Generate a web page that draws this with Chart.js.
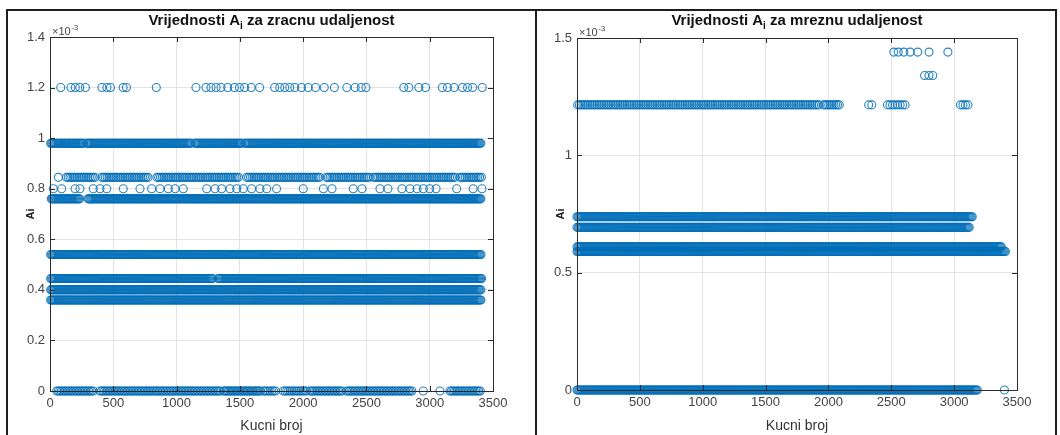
<!DOCTYPE html>
<html>
<head>
<meta charset="utf-8">
<script src="https://cdn.jsdelivr.net/npm/chart.js@4.4.1/dist/chart.umd.min.js"></script>
<style>
  body { margin: 0; background: #fff; width: 1060px; height: 435px; overflow: hidden; position: relative; }
  .ln { position: absolute; background: #1e1e1e; }
  .wrap { position: absolute; top: 11px; }
  canvas { display: block; }
</style>
</head>
<body>
<div class="ln" style="left:6px;top:9px;width:1051px;height:2px"></div>
<div class="ln" style="left:6px;top:9px;width:2px;height:426px"></div>
<div class="ln" style="left:535px;top:9px;width:2px;height:426px"></div>
<div class="ln" style="left:1055px;top:9px;width:2px;height:426px"></div>
<div class="wrap" style="left:8px"><canvas id="c1" width="527" height="424"></canvas></div>
<div class="wrap" style="left:538px"><canvas id="c2" width="517" height="424"></canvas></div>
<script>
// Ai values are in units of 10^-3, x = Kucni broj
// runs: [od, do, korak] = consecutive houses on one level, singles = lone circles

// --- zracna udaljenost ---
const zracRazine = [1.2, 0.98, 0.845, 0.80, 0.76, 0.54, 0.445, 0.40, 0.36, 0];
const zracNizovi = [
  [],
  [[5, 95, 8], [105, 265, 8], [290, 1120, 8], [1145, 1515, 8], [1540, 3410, 8]],
  [[130, 340, 14], [410, 775, 14], [845, 1500, 14], [1555, 2130, 14], [2185, 2530, 14], [2555, 3210, 14], [3240, 3410, 14]],
  [],
  [[10, 240, 8], [300, 3410, 8]],
  [[5, 3410, 8]],
  [[5, 1290, 8], [1330, 3410, 8]],
  [[5, 3410, 8]],
  [[5, 3410, 8]],
  [[53, 342, 12], [395, 1343, 12], [1370, 1660, 10], [1683, 1793, 14], [1843, 2027, 14], [2054, 2317, 12], [2343, 2870, 12], [3160, 3400, 12]]
];
const zracPojedinacni = [
  [85, 165, 200, 235, 280, 410, 450, 478, 578, 604, 840, 1153, 1232, 1272, 1312, 1351, 1404, 1457, 1497, 1537,
   1590, 1656, 1775, 1815, 1855, 1894, 1934, 1987, 2040, 2098, 2167, 2247, 2345, 2411, 2459, 2496, 2795, 2835,
   2914, 2967, 3100, 3140, 3193, 3259, 3299, 3339, 3415],
  [],
  [66, 355],
  [26, 92, 198, 237, 342, 395, 448, 579, 711, 803, 869, 935, 988, 1053, 1238, 1304, 1356, 1422, 1475, 1527,
   1593, 1659, 1712, 1790, 2001, 2160, 2228, 2396, 2465, 2607, 2670, 2780, 2844, 2900, 2950, 3000, 3050, 3213,
   3343, 3413],
  [], [], [], [], [],
  [2949, 3081]
];

// --- mrezna udaljenost ---
const mrezRazine = [1.44, 1.34, 1.215, 0.738, 0.693, 0.61, 0.59, 0];
const mrezNizovi = [
  [],
  [],
  [[5, 1930, 14], [1960, 2095, 14], [2470, 2610, 20], [3050, 3110, 20]],
  [[0, 3150, 8]],
  [[0, 3125, 8]],
  [[0, 3380, 8]],
  [[0, 3410, 8]],
  [[0, 3190, 8]]
];
const mrezPojedinacni = [
  [2520, 2555, 2600, 2650, 2710, 2800, 2950],
  [2765, 2800, 2830],
  [2320, 2345],
  [], [], [], [],
  [3400]
];

const xTicks = { min: 0, max: 3500, step: 500 };
const zracY = { min: 0, max: 1.4, step: 0.2 };
const mrezY = { min: 0, max: 1.5, step: 0.5 };

function points(razine, nizovi, pojedinacni) {
  const out = [];
  razine.forEach((y, i) => {
    nizovi[i].forEach(([a, b, k]) => {
      for (let x = a; x <= b; x += k) out.push({ x: x, y: y });
    });
    pojedinacni[i].forEach(x => out.push({ x: x, y: y }));
  });
  return out;
}

const FONT = '"Liberation Sans", Arial, Helvetica, sans-serif';
const TICK = '#444';

const matlabLook = {
  id: 'matlabLook',
  afterDraw(chart, args, opts) {
    const { ctx, chartArea: a, scales } = chart;
    ctx.save();
    // box + inner ticks
    ctx.strokeStyle = '#2a2a2a';
    ctx.lineWidth = 1;
    ctx.strokeRect(Math.round(a.left) + 0.5, Math.round(a.top) + 0.5,
      Math.round(a.right - a.left), Math.round(a.bottom - a.top));
    ctx.beginPath();
    scales.x.ticks.forEach(t => {
      const px = Math.round(scales.x.getPixelForValue(t.value)) + 0.5;
      ctx.moveTo(px, a.bottom); ctx.lineTo(px, a.bottom - 5);
      ctx.moveTo(px, a.top); ctx.lineTo(px, a.top + 5);
    });
    scales.y.ticks.forEach(t => {
      const py = Math.round(scales.y.getPixelForValue(t.value)) + 0.5;
      ctx.moveTo(a.left, py); ctx.lineTo(a.left + 5, py);
      ctx.moveTo(a.right, py); ctx.lineTo(a.right - 5, py);
    });
    ctx.stroke();

    // title with subscript i
    const cx = (a.left + a.right) / 2;
    const big = 'bold 15px ' + FONT, small = 'bold 10px ' + FONT;
    ctx.font = big;
    const w1 = ctx.measureText(opts.pre).width;
    const w3 = ctx.measureText(opts.post).width;
    ctx.font = small;
    const w2 = ctx.measureText('i').width;
    let x = cx - (w1 + w2 + w3) / 2;
    const base = 14;
    ctx.fillStyle = '#111';
    ctx.textBaseline = 'alphabetic';
    ctx.textAlign = 'left';
    ctx.font = big; ctx.fillText(opts.pre, x, base); x += w1;
    ctx.font = small; ctx.fillText('i', x, base + 4); x += w2;
    ctx.font = big; ctx.fillText(opts.post, x, base);

    // exponent
    ctx.fillStyle = TICK;
    ctx.font = '11px ' + FONT;
    const ex = a.left + 2, ey = a.top - 2;
    ctx.fillText('\u00d710', ex, ey);
    const ew = ctx.measureText('\u00d710').width;
    ctx.font = '8px ' + FONT;
    ctx.fillText('-3', ex + ew + 0.5, ey - 5);
    ctx.restore();
  }
};

function makeChart(id, razine, nizovi, pojedinacni, yr, title, pad, yWidth, xHeight) {
  return new Chart(document.getElementById(id), {
    type: 'scatter',
    data: {
      datasets: [{
        data: points(razine, nizovi, pojedinacni),
        pointStyle: 'circle',
        pointRadius: 4,
        pointBorderWidth: 1.1,
        pointBackgroundColor: 'rgba(0,0,0,0)',
        pointBorderColor: 'rgba(0,110,185,0.85)',
        showLine: false,
        clip: false
      }]
    },
    options: {
      responsive: false,
      animation: false,
      devicePixelRatio: 1,
      layout: { padding: pad },
      plugins: {
        legend: { display: false },
        tooltip: { enabled: false },
        matlabLook: title
      },
      scales: {
        x: {
          type: 'linear',
          min: xTicks.min, max: xTicks.max,
          ticks: {
            stepSize: xTicks.step, color: TICK, font: { family: FONT, size: 13 }, padding: 5, maxRotation: 0,
            callback: v => String(v)
          },
          grid: { color: '#e3e3e3', drawTicks: false },
          border: { display: false },
          title: { display: true, text: 'Kucni broj', color: '#333', font: { family: FONT, size: 14 }, padding: 0 },
          afterFit(s) { s.height = xHeight; }
        },
        y: {
          type: 'linear',
          min: yr.min, max: yr.max,
          ticks: {
            stepSize: yr.step, color: TICK, font: { family: FONT, size: 13 }, padding: 5,
            callback: v => String(+v.toFixed(2))
          },
          grid: { color: '#e3e3e3', drawTicks: false },
          border: { display: false },
          title: { display: true, text: 'Ai', color: '#222', font: { family: FONT, size: 11, weight: 'bold' }, padding: { top: 16, bottom: 0 } },
          afterFit(s) { s.width = yWidth; }
        }
      }
    },
    plugins: [matlabLook]
  });
}

makeChart('c1', zracRazine, zracNizovi, zracPojedinacni, zracY,
  { pre: 'Vrijednosti A', post: ' za zracnu udaljenost' },
  { top: 26, right: 42, bottom: 0, left: 0 }, 42, 44);

makeChart('c2', mrezRazine, mrezNizovi, mrezPojedinacni, mrezY,
  { pre: 'Vrijednosti A', post: ' za mreznu udaljenost' },
  { top: 27, right: 38, bottom: 0, left: 0 }, 39, 45);
</script>
</body>
</html>
